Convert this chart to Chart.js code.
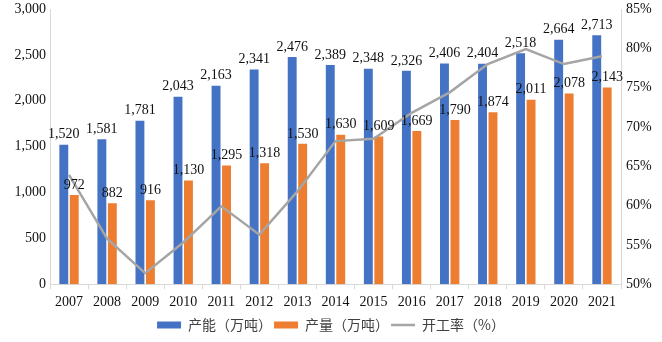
<!DOCTYPE html>
<html>
<head>
<meta charset="utf-8">
<script src="https://cdn.jsdelivr.net/npm/chart.js@4/dist/chart.umd.min.js"></script>
<style>
  html, body { margin: 0; padding: 0; background: #fff; }
</style>
</head>
<body>
<canvas id="chart" width="662" height="342"></canvas>
<script>
const years = ['2007', '2008', '2009', '2010', '2011', '2012', '2013', '2014', '2015', '2016', '2017', '2018', '2019', '2020', '2021'];
const capacity = [1520, 1581, 1781, 2043, 2163, 2341, 2476, 2389, 2348, 2326, 2406, 2404, 2518, 2664, 2713];
const output = [972, 882, 916, 1130, 1295, 1318, 1530, 1630, 1609, 1669, 1790, 1874, 2011, 2078, 2143];
const rate = [63.9, 55.8, 51.4, 55.3, 59.9, 56.3, 61.8, 68.2, 68.5, 71.8, 74.4, 78.0, 79.9, 78.0, 79.0];
const leftTicks = [0, 500, 1000, 1500, 2000, 2500, 3000];
const rightTicks = [50, 55, 60, 65, 70, 75, 80, 85];

const serif = "'Liberation Serif', 'Times New Roman', serif";
const cjk = "'Noto Sans CJK SC', sans-serif";

// value labels above the bars
const barLabels = {
  id: 'barLabels',
  afterDatasetsDraw(chart) {
    const ctx = chart.ctx;
    ctx.save();
    ctx.font = '14px ' + serif;
    ctx.fillStyle = '#111';
    ctx.textAlign = 'center';
    ctx.textBaseline = 'bottom';
    [0, 1].forEach(i => {
      const meta = chart.getDatasetMeta(i);
      meta.data.forEach((bar, j) => {
        const v = chart.data.datasets[i].data[j];
        ctx.fillText(v.toLocaleString('en-US'), bar.x, bar.y - 3);
      });
    });
    ctx.restore();
  }
};

// fixed axis widths, and keep tick padding from pushing the plot down
const fitLeft = s => { s.width = 47; s.paddingTop = 9; s.paddingBottom = 0; };
const fitRight = s => { s.width = 38; s.paddingTop = 9; s.paddingBottom = 0; };

const ctx = document.getElementById('chart');
new Chart(ctx, {
  type: 'bar',
  data: {
    labels: years,
    datasets: [
      {
        label: '产能（万吨）',
        data: capacity,
        backgroundColor: '#4472C4',
        yAxisID: 'y',
        order: 1,
        categoryPercentage: 0.55,
        barPercentage: 0.85,
        pointStyle: 'rect'
      },
      {
        label: '产量（万吨）',
        data: output,
        backgroundColor: '#ED7D31',
        yAxisID: 'y',
        order: 1,
        categoryPercentage: 0.55,
        barPercentage: 0.85,
        pointStyle: 'rect'
      },
      {
        type: 'line',
        label: '开工率（%）',
        data: rate,
        borderColor: '#A5A5A5',
        backgroundColor: '#A5A5A5',
        borderWidth: 2.5,
        pointRadius: 0,
        tension: 0,
        yAxisID: 'y1',
        order: 0,
        pointStyle: 'line'
      }
    ]
  },
  options: {
    responsive: false,
    animation: false,
    devicePixelRatio: 1,
    layout: { padding: { top: 0, right: 3, left: 3, bottom: 0 } },
    plugins: {
      tooltip: { enabled: false },
      legend: {
        position: 'bottom',
        labels: {
          usePointStyle: true,
          pointStyleWidth: 24,
          boxHeight: 7,
          padding: 2,
          color: '#404040',
          font: { family: cjk, size: 14 },
          sort: (a, b) => a.datasetIndex - b.datasetIndex
        }
      }
    },
    scales: {
      x: {
        grid: {
          drawOnChartArea: false,
          tickLength: 5,
          color: '#D9D9D9'
        },
        border: { color: '#D9D9D9' },
        ticks: { color: '#111', font: { family: serif, size: 14 }, padding: 5, maxRotation: 0, autoSkip: false }
      },
      y: {
        position: 'left',
        min: 0,
        max: 3000,
        afterBuildTicks: axis => { axis.ticks = leftTicks.map(v => ({ value: v })); },
        afterFit: fitLeft,
        grid: { display: false, drawTicks: false },
        border: { color: '#D9D9D9' },
        ticks: {
          color: '#111',
          font: { family: serif, size: 14 },
          padding: 4,
          callback: v => v.toLocaleString('en-US')
        }
      },
      y1: {
        position: 'right',
        min: 50,
        max: 85,
        afterBuildTicks: axis => { axis.ticks = rightTicks.map(v => ({ value: v })); },
        afterFit: fitRight,
        grid: { display: false, drawTicks: false },
        border: { color: '#D9D9D9' },
        ticks: {
          color: '#111',
          font: { family: serif, size: 14 },
          padding: 5,
          callback: v => v + '%'
        }
      }
    }
  },
  plugins: [barLabels]
});
</script>
</body>
</html>
